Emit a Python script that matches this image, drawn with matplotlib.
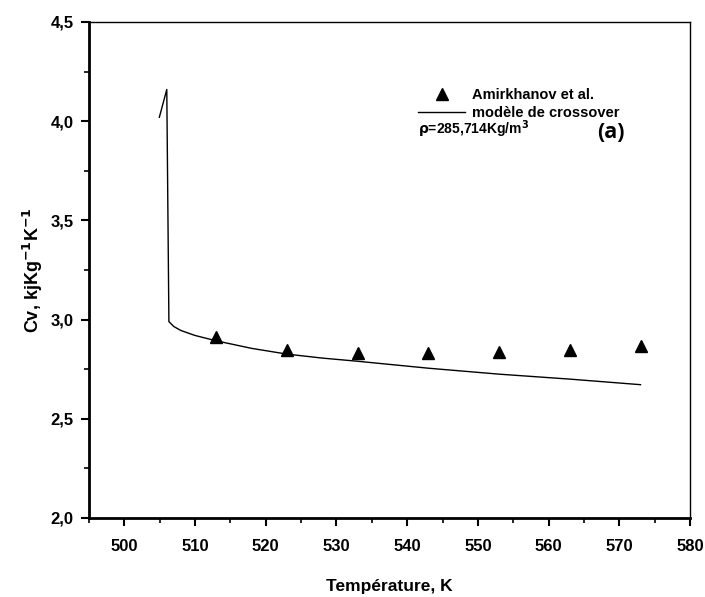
import matplotlib
matplotlib.use("Agg")
import matplotlib.pyplot as plt
from matplotlib.ticker import MultipleLocator, FuncFormatter

# Data
T_exp = [513, 523, 533, 543, 553, 563, 573]
Cv_exp = [2.91, 2.845, 2.83, 2.83, 2.835, 2.845, 2.865]

T_model = [504.95, 506.0, 506.3, 507.0, 508.0, 510.0, 513.0, 518.0, 523.0, 528.0,
           533.0, 543.0, 553.0, 563.0, 573.0]
Cv_model = [4.02, 4.16, 2.99, 2.965, 2.945, 2.92, 2.893, 2.855, 2.826, 2.806,
            2.79, 2.755, 2.725, 2.70, 2.672]

xticks = [500, 510, 520, 530, 540, 550, 560, 570, 580]
yticks = [2.0, 2.5, 3.0, 3.5, 4.0, 4.5]

plt.rcParams['font.family'] = ['Liberation Sans', 'DejaVu Sans']

fig = plt.figure(figsize=(7.05, 5.97), dpi=100)
ax = fig.add_axes([89/705, 1-518/597, (690-89)/705, (518-22)/597])

ax.plot(T_model, Cv_model, color='black', lw=1.0, label='modèle de crossover')
ax.plot(T_exp, Cv_exp, linestyle='none', marker='^', color='black', ms=8,
        label='Amirkhanov et al.')

ax.set_xlim(495, 580)
ax.set_ylim(2.0, 4.5)
ax.set_xticks(xticks)
ax.set_yticks(yticks)
ax.xaxis.set_minor_locator(MultipleLocator(5))
ax.yaxis.set_minor_locator(MultipleLocator(0.25))
ax.yaxis.set_major_formatter(FuncFormatter(lambda v, p: f"{v:.1f}".replace('.', ',')))
ax.tick_params(axis='both', which='major', direction='out', length=6, width=1.5,
               labelsize=12)
ax.tick_params(axis='x', which='major', pad=9)
ax.tick_params(axis='y', which='major', pad=5)
ax.tick_params(axis='both', which='minor', direction='out', length=3.5, width=1.2)
for lab in ax.get_xticklabels() + ax.get_yticklabels():
    lab.set_fontweight('bold')

ax.spines['left'].set_linewidth(2.0)
ax.spines['bottom'].set_linewidth(2.0)
ax.spines['top'].set_linewidth(1.0)
ax.spines['right'].set_linewidth(1.0)

ax.set_xlabel('Température, K', fontsize=12.5, fontweight='bold', labelpad=18)
ax.set_ylabel(r'Cv, kjKg$^{\mathbf{-1}}$K$^{\mathbf{-1}}$', fontsize=13,
              fontweight='bold', labelpad=4)

h, l = ax.get_legend_handles_labels()
leg = ax.legend([h[1], h[0]], [l[1], l[0]], loc='upper left',
                bbox_to_anchor=(0.538, 0.879), frameon=False,
                prop={'weight': 'bold', 'size': 10.5}, handlelength=3.2,
                handletextpad=0.5, labelspacing=0.3, borderaxespad=0)

fig.text(418/705, 1-134/597, r'$\mathbf{\rho}$=285,714Kg/m$^{\mathbf{3}}$',
         fontsize=10, fontweight='bold', va='baseline')
fig.text(597/705, 1-138/597, '(a)', fontsize=15.5, fontweight='bold',
         family=['Open Sans', 'DejaVu Sans'], va='baseline')

fig.savefig('out.png', dpi=100)
